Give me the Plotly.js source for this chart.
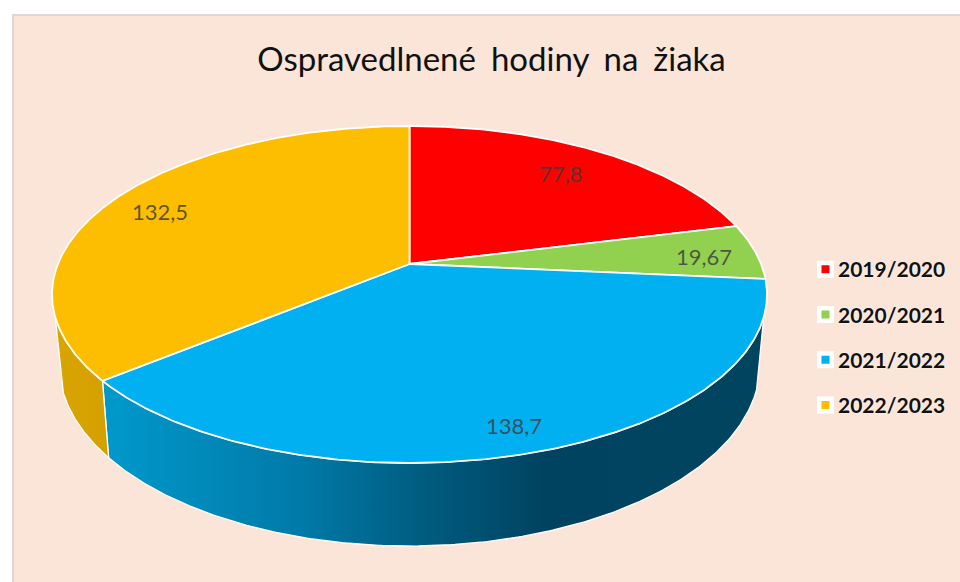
<!DOCTYPE html>
<html>
<head>
<meta charset="utf-8">
<script src="https://cdn.plot.ly/plotly-3.0.1.min.js"></script>
<style>html,body{margin:0;padding:0;background:#fff}#chart{width:960px;height:582px}.gtitle{word-spacing:6.5px}</style>
</head>
<body>
<div id="chart"></div>
<script>
const titleText = 'Ospravedlnené hodiny na žiaka';
const categories = ['2019/2020', '2020/2021', '2021/2022', '2022/2023'];
const values = [77.8, 19.67, 138.7, 132.5];
const valueLabels = ['77,8', '19,67', '138,7', '132,5'];
const topColors = ['#ff0000', '#92d050', '#00b0f0', '#fdbd00'];
const wallScales = [
  [[0, '#c00000'], [1, '#800000']],
  [[0, '#6d9c3c'], [1, '#4a6a28']],
  [[0, '#0099cc'], [0.30, '#007aa8'], [0.485, '#005c80'], [0.67, '#004360'], [1, '#004560']],
  [[0, '#daa500'], [1, '#d4a000']]
];
const labelRadius = [0.777, 0.85, 0.88, 0.83];
const labelShiftX = [0, 0, -3, -2];
const labelShiftY = [-1, 3, 0, 2];

// Tilted-disc projection of the pie
const cx = 409.5, cy = 264, R = 351.6, S = 163, persp = 0.181, depth = 68, shrink = 0.98;
const visFrom = 108, visTo = 252;
const rad = d => d * Math.PI / 180;
function topPoint(deg, f) {
  const c = Math.cos(rad(deg)), s = Math.sin(rad(deg)), w = 1 + persp * f * c;
  return [cx + R * f * s / w, cy - S * f * c / w, w];
}
function basePoint(deg) {
  const p = topPoint(deg, 1);
  return [cx + shrink * (p[0] - cx), p[1] + depth / p[2]];
}
function arc(a, b, fn) {
  const n = Math.max(2, Math.ceil(Math.abs(b - a) * 2)), out = [];
  for (let i = 0; i <= n; i++) out.push(fn(a + (b - a) * i / n));
  return out;
}

const total = values.reduce((p, v) => p + v, 0);
let acc = 0;
const spans = values.map(v => { const a = acc; acc += v / total * 360; return [a, acc]; });

const walls = [], faces = [], legendItems = [], notes = [];
spans.forEach((sp, i) => {
  const a = Math.max(sp[0], visFrom), b = Math.min(sp[1], visTo);
  if (b > a) {
    const pts = arc(a, b, d => topPoint(d, 1)).concat(arc(b, a, basePoint));
    pts.push(pts[0]);
    walls.push({
      type: 'scatter', mode: 'lines', x: pts.map(p => p[0]), y: pts.map(p => p[1]),
      fill: 'toself', fillcolor: wallScales[i][0][1],
      fillgradient: {type: 'horizontal', colorscale: wallScales[i]},
      line: {color: '#ffffff', width: 1.3}, showlegend: false, hoverinfo: 'skip', name: categories[i]
    });
  }
  const rim = arc(sp[0], sp[1], d => topPoint(d, 1));
  const pts = [[cx, cy]].concat(rim, [[cx, cy]]);
  faces.push({
    type: 'scatter', mode: 'lines', x: pts.map(p => p[0]), y: pts.map(p => p[1]),
    fill: 'toself', fillcolor: topColors[i],
    line: {color: '#ffffff', width: 1.8}, showlegend: false, hoverinfo: 'skip', name: categories[i]
  });
  legendItems.push({
    type: 'scatter', mode: 'markers', x: [null], y: [null], name: categories[i],
    legendgroup: categories[i],
    marker: {symbol: 'square', size: 12.5, color: topColors[i], line: {color: '#ffffff', width: 4.5}},
    hoverinfo: 'skip'
  });
  const lp = topPoint((sp[0] + sp[1]) / 2, labelRadius[i]);
  notes.push({
    xref: 'x', yref: 'y', x: lp[0], y: lp[1], text: valueLabels[i], showarrow: false,
    xanchor: 'center', yanchor: 'middle', xshift: labelShiftX[i], yshift: -labelShiftY[i],
    font: {family: 'Lato, Carlito, sans-serif', size: 22, color: 'rgba(60,60,60,0.82)'}
  });
});

const layout = {
  width: 960, height: 582,
  margin: {l: 0, r: 0, t: 0, b: 0},
  paper_bgcolor: '#ffffff', plot_bgcolor: 'rgba(0,0,0,0)',
  title: {
    text: titleText, x: 0.512, xanchor: 'center', xref: 'paper', y: 0.897, yanchor: 'middle', yref: 'container',
    font: {family: 'Lato, Carlito, sans-serif', size: 33, color: '#111111'}
  },
  xaxis: {visible: false, range: [0, 960], fixedrange: true},
  yaxis: {visible: false, range: [582, 0], fixedrange: true},
  shapes: [{
    type: 'rect', layer: 'below', xref: 'paper', yref: 'paper',
    x0: 13 / 960, x1: 1.01, y0: -0.01, y1: 1 - 15 / 582,
    fillcolor: '#fbe5d8', line: {color: '#d9d9d9', width: 2}
  }],
  annotations: notes,
  showlegend: true,
  legend: {
    x: 798 / 960, xanchor: 'left', y: 1 - 249 / 582, yanchor: 'top',
    bgcolor: 'rgba(0,0,0,0)', borderwidth: 0, tracegroupgap: 15,
    font: {family: 'Lato, Carlito, sans-serif', size: 21, weight: 700, color: '#111111', shadow: '0 0 2px #ffffff'}
  }
};

Plotly.newPlot('chart', walls.concat(faces, legendItems), layout, {displayModeBar: false, staticPlot: true}).then(gd => {
  gd.querySelectorAll('.legend .legendpoints').forEach(n => n.setAttribute('transform', 'translate(7.5,0)'));
});
</script>
</body>
</html>
